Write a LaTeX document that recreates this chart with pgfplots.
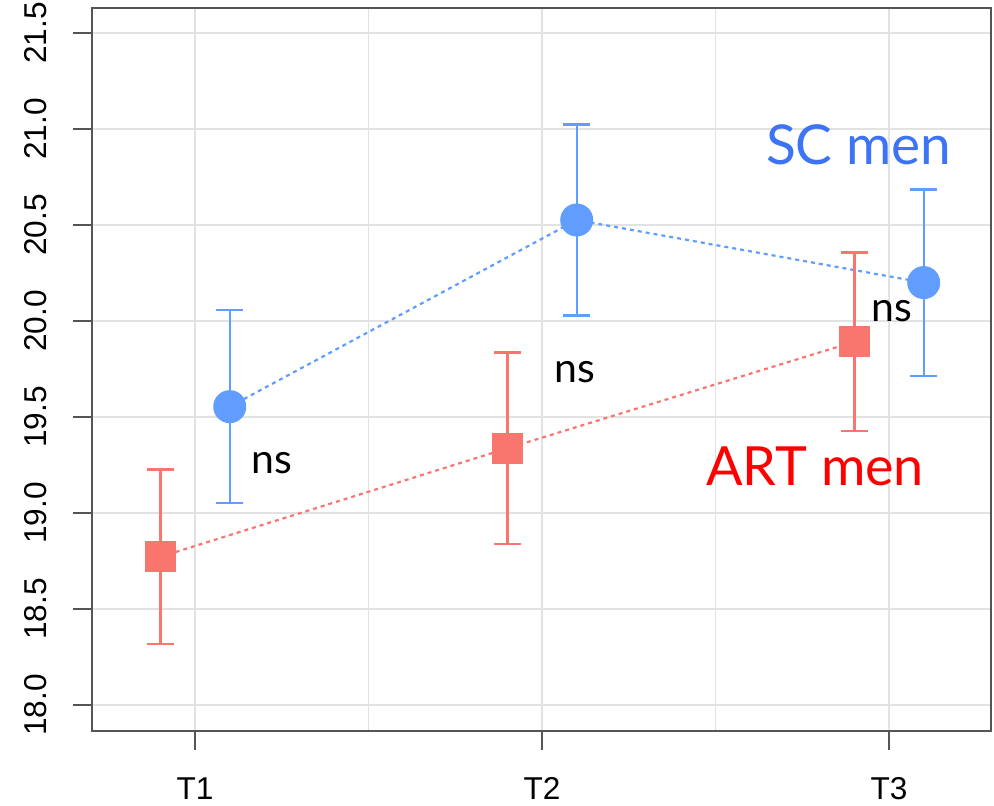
\documentclass[border=0pt]{standalone}
\usepackage{pgfplots}
\pgfplotsset{compat=1.18}
\usepackage{fontspec}
\setmainfont{Liberation Sans}
\newfontfamily\labfont{Lato}
\definecolor{scblue}{HTML}{619CFF}
\definecolor{artred}{HTML}{F8766D}
\definecolor{sctext}{HTML}{3D73F5}
\definecolor{arttext}{HTML}{FF0000}
\definecolor{gridc}{HTML}{E2E2E2}
\definecolor{axc}{HTML}{555555}
\begin{document}
\begin{tikzpicture}
\begin{axis}[name=ax, scale only axis, width=449.5pt, height=361.5pt,
  xmin=0.703, xmax=3.294, ymin=17.865, ymax=21.63,
  xtick={1,2,3}, xticklabels={T1,T2,T3}, minor xtick={1.5,2.5},
  ytick={18,18.5,19,19.5,20,20.5,21,21.5},
  /pgf/number format/assume math mode=true,
  yticklabel={\pgfmathprintnumber[fixed,fixed zerofill,precision=1]{\tick}},
  yticklabel style={rotate=90, anchor=south, inner sep=0pt},
  xticklabel style={anchor=north, inner sep=0pt},
  yticklabel shift=13pt, xticklabel shift=13.5pt,
  ticklabel style={font=\fontsize{15.8}{18}\selectfont},
  tick align=outside, tick pos=left, major tick length=9.5pt, minor tick length=0pt,
  tick style={axc, line width=0.75pt},
  grid=both, grid style={gridc, line width=0.7pt}, minor grid style={gridc, line width=0.7pt},
  axis line style={axc, line width=0.75pt},
  clip=false]
\addplot[scblue, line width=1.1pt, dash pattern=on 2pt off 2pt,
  mark=*, mark size=7.7pt, mark options={solid, fill=scblue, draw=none},
  error bars/.cd, y dir=both, y explicit,
  error bar style={solid, line width=1.2pt, scblue},
  error mark options={rotate=90, mark size=6.8pt, line width=1.2pt, scblue}]
  coordinates {
  (1.1,19.554) +- (0,0.503)
  (2.1,20.526) +- (0,0.497)
  (3.1,20.20) +- (0,0.485)
  };
\addplot[artred, line width=1.1pt, dash pattern=on 2pt off 2pt,
  mark=square*, mark size=7.2pt, mark options={solid, fill=artred, draw=none},
  error bars/.cd, y dir=both, y explicit,
  error bar style={solid, line width=1.2pt, artred},
  error mark options={rotate=90, mark size=6.8pt, line width=1.2pt, artred}]
  coordinates {
  (0.9,18.772) +- (0,0.455)
  (1.9,19.337) +- (0,0.498)
  (2.9,19.892) +- (0,0.465)
  };
\node[anchor=base, inner sep=0pt, font=\labfont\fontsize{20.5}{24}\selectfont] at (axis cs:1.222,19.208) {ns};
\node[anchor=base, inner sep=0pt, font=\labfont\fontsize{20.5}{24}\selectfont] at (axis cs:2.095,19.682) {ns};
\node[anchor=base, inner sep=0pt, font=\labfont\fontsize{20.5}{24}\selectfont] at (axis cs:3.009,19.995) {ns};
\node[anchor=base, inner sep=0pt, text=sctext, font=\labfont\fontsize{27.5}{32}\selectfont] at (axis cs:2.913,20.8125) {SC men};
\node[anchor=base, inner sep=0pt, text=arttext, font=\labfont\fontsize{27}{32}\selectfont] at (axis cs:2.787,19.146) {ART men};
\end{axis}
\pgfresetboundingbox
\path ([shift={(-46pt,-37.5pt)}]ax.south west) rectangle ([shift={(1.5pt,4pt)}]ax.north east);
\end{tikzpicture}
\end{document}
